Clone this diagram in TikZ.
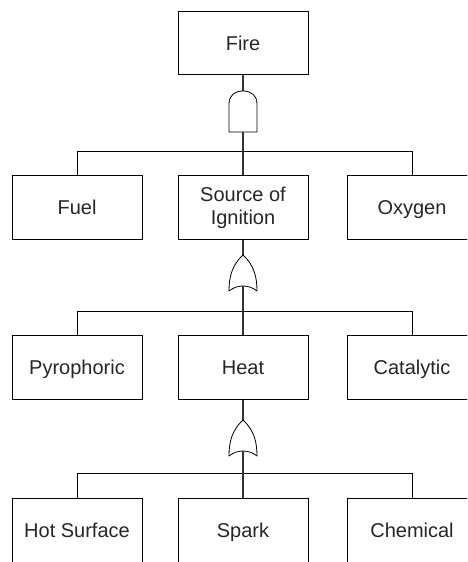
\documentclass[tikz,border=0pt]{standalone}
\usepackage{fontspec}
\setmainfont{Liberation Sans}
\begin{document}
\begin{tikzpicture}[x=1pt,y=-1pt,
  evt/.style={draw, line width=0.8pt, minimum width=130pt, minimum height=64pt, inner sep=0pt, anchor=north, align=center, font=\fontsize{20}{23}\selectfont, text=black!85},
  one/.style={evt, text height=19pt, text depth=4pt},
  conn/.style={line width=1.3pt, black!80},
  bar/.style={line width=0.8pt},
  gate/.style={draw, line width=0.8pt, fill=white, line join=round}]
\useasboundingbox (0,0) rectangle (467,562);
\clip (0,0) rectangle (467,562);
% level 1
\node[one, minimum height=63pt] (fire) at (243,11) {Fire};
% level 2
\node[one] (fuel) at (77,175) {Fuel};
\node[evt] (src)  at (243,175) {Source of\\Ignition};
\node[one] (oxy)  at (412,175) {Oxygen};
% level 3
\node[one] (pyro) at (77,335) {Pyrophoric};
\node[one] (heat) at (243,335) {Heat};
\node[one] (cat)  at (412,335) {Catalytic};
% level 4
\node[one] (hot)   at (77,498) {Hot Surface};
\node[one] (spark) at (243,498) {Spark};
\node[one] (chem)  at (412,498) {Chemical};
% gate coordinates
\coordinate (g1in) at (243,91);
\coordinate (g1out) at (243,132);
\coordinate (g2in) at (243,255);
\coordinate (g2out) at (243,286);
\coordinate (g3in) at (243,420);
\coordinate (g3out) at (243,451);
% bars
\draw[bar] (fuel.north) -- ++(0,-24) -| (oxy.north);
\draw[bar] (pyro.north) -- ++(0,-24) -| (cat.north);
\draw[bar] (hot.north) -- ++(0,-25) -| (chem.north);
% connectors
\draw[conn] (fire.south) -- (g1in);
\draw[conn] (g1out) -- (src.north);
\draw[conn] (src.south) -- (g2in);
\draw[conn] (g2out) -- (heat.north);
\draw[conn] (heat.south) -- (g3in);
\draw[conn] (g3out) -- (spark.north);
% AND gate
\draw[gate] (229,132) -- (229,104) .. controls (229,95) and (235,91) .. (243,91)
  .. controls (251,91) and (257,95) .. (257,104) -- (257,132) -- cycle;
% OR gates
\foreach \t/\b in {255/291, 420/456}{
  \draw[gate] (229,\b) .. controls (229,\t+22) and (232,\t+10) .. (243,\t)
    .. controls (254,\t+10) and (257,\t+22) .. (257,\b)
    .. controls (252,\b-4) and (247,\b-5) .. (243,\b-5)
    .. controls (239,\b-5) and (234,\b-4) .. (229,\b) -- cycle;
}
\end{tikzpicture}
\end{document}
